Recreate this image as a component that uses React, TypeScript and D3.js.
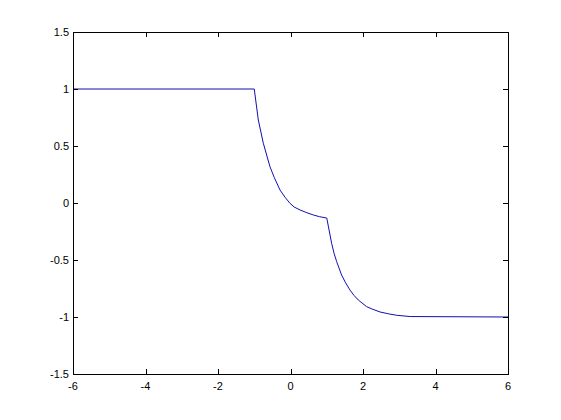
import React, { useEffect, useRef } from "react";
import * as d3 from "d3";

// points
const xs = [-6, -1, -0.888, -0.75, -0.566, -0.45, -0.29, -0.15, -0.014, 0.1, 0.262, 0.45, 0.63, 0.8, 1.0, 1.135, 1.2, 1.274, 1.41, 1.52, 1.64, 1.75, 1.87, 2.1, 2.25, 2.47, 2.7, 2.93, 3.3, 6];
const ys = [1, 1, 0.728, 0.524, 0.318, 0.225, 0.114, 0.05, -0.003, -0.035, -0.061, -0.085, -0.105, -0.12, -0.132, -0.354, -0.44, -0.515, -0.632, -0.70, -0.763, -0.81, -0.851, -0.909, -0.93, -0.956, -0.972, -0.985, -0.996, -1];

const xTicks = [-6, -4, -2, 0, 2, 4, 6];
const yTicks = [-1.5, -1, -0.5, 0, 0.5, 1, 1.5];

const App = () => {
  const ref = useRef<SVGSVGElement>(null);

  useEffect(() => {
    const svg = d3.select(ref.current);
    svg.selectAll("*").remove();

    const left = 73, right = 508, top = 32, bottom = 374;
    const x = d3.scaleLinear().domain([-6, 6]).range([left, right]);
    const y = d3.scaleLinear().domain([-1.5, 1.5]).range([bottom, top]);
    const tl = 5;

    // curve
    const line = d3.line<number>()
      .x((d, i) => x(xs[i]))
      .y((d) => y(d));
    svg.append("path")
      .attr("d", line(ys))
      .attr("fill", "none")
      .attr("stroke", "#1010b0")
      .attr("stroke-width", 1);

    const g = svg.append("g").attr("stroke", "#000").attr("stroke-width", 1);

    // box
    g.append("rect")
      .attr("x", left + 0.5).attr("y", top + 0.5)
      .attr("width", right - left).attr("height", bottom - top)
      .attr("fill", "none");

    // ticks, inward on all sides
    xTicks.forEach((t) => {
      const px = Math.round(x(t)) + 0.5;
      g.append("line").attr("x1", px).attr("x2", px).attr("y1", bottom).attr("y2", bottom - tl);
      g.append("line").attr("x1", px).attr("x2", px).attr("y1", top).attr("y2", top + tl);
    });
    yTicks.forEach((t) => {
      const py = Math.round(y(t)) + 0.5;
      g.append("line").attr("x1", left).attr("x2", left + tl).attr("y1", py).attr("y2", py);
      g.append("line").attr("x1", right).attr("x2", right - tl).attr("y1", py).attr("y2", py);
    });

    // labels
    svg.append("g")
      .selectAll("text")
      .data(xTicks)
      .join("text")
      .attr("x", (d) => x(d))
      .attr("y", bottom + 16)
      .attr("text-anchor", "middle")
      .attr("font-family", "Arial, 'Liberation Sans', sans-serif")
      .attr("font-size", 11)
      .text((d) => String(d));

    svg.append("g")
      .selectAll("text")
      .data(yTicks)
      .join("text")
      .attr("x", left - 4)
      .attr("y", (d) => y(d) + 4)
      .attr("text-anchor", "end")
      .attr("font-family", "Arial, 'Liberation Sans', sans-serif")
      .attr("font-size", 11)
      .text((d) => String(d));

    return () => {
      d3.select(ref.current).selectAll("*").remove();
    };
  }, []);

  return (
    <svg
      ref={ref}
      width={561}
      height={420}
      style={{ position: "absolute", left: 0, top: 0, background: "#fff" }}
    />
  );
};

export default App;
